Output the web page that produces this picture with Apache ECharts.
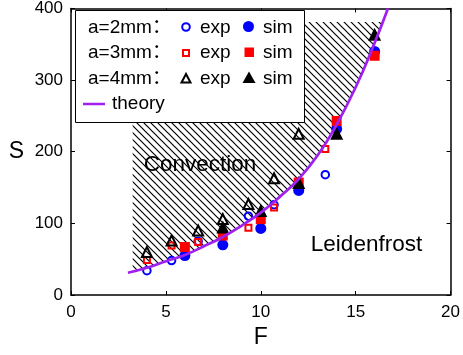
<!DOCTYPE html>
<html>
<head>
<meta charset="utf-8">
<script src="https://cdn.jsdelivr.net/npm/echarts@6/dist/echarts.min.js"></script>
<style>
  html, body { margin: 0; padding: 0; background: #fff; }
  #chart { width: 463px; height: 355px; }
</style>
</head>
<body>
<div id="chart"></div>
<script>
// values: [F, S]
var a2exp = [[4, 34], [5.3, 48], [6.7, 75], [9.35, 110], [10.7, 126], [13.4, 168]];
var a2sim = [[6, 55], [8, 70], [10, 93], [12, 146], [14, 232], [16, 340]];
var a3exp = [[4, 49], [5.3, 69], [6.7, 74], [9.35, 94], [10.7, 122], [13.4, 204]];
var a3sim = [[6, 67], [8, 83], [10, 106], [12, 157], [14, 243], [16, 334]];
var a4exp = [[4, 60], [5.3, 76], [6.7, 90], [8, 106], [9.35, 127], [10.7, 163], [12, 225]];
var a4sim = [[8, 95], [10, 118], [12, 157], [14, 226], [16, 364]];

var theoryF = [3, 4, 5, 6, 7, 8, 9, 10, 11, 12, 13, 14, 15, 16, 16.7];
var theoryS = [31, 38, 47, 56, 68, 81, 97, 115, 137, 162, 195, 238, 290, 352, 400];

// hatched "Convection" region: left edge and top edge corners
var hatchF = [3.25, 3.25, 16.42];
var hatchS = [33, 381, 381];

var xTicks = [0, 5, 10, 15, 20];
var yTicks = [0, 100, 200, 300, 400];

var FONT = '"Liberation Sans", "Noto Sans CJK SC", sans-serif';

// diagonal hatch tile
var tile = document.createElement('canvas');
tile.width = 7;
tile.height = 7;
var tc = tile.getContext('2d');
tc.strokeStyle = '#000';
tc.lineWidth = 1.2;
tc.beginPath();
tc.moveTo(-1, -1); tc.lineTo(8, 8);
tc.moveTo(-1, 6); tc.lineTo(1, 8);
tc.moveTo(6, -1); tc.lineTo(8, 1);
tc.stroke();

var theory = theoryF.map(function (f, i) { return [f, theoryS[i]]; });

// polygon: top edge, then down along the theory curve, then up the left edge
var hatchPoly = [[hatchF[1], hatchS[1]], [hatchF[2], hatchS[2]]];
for (var i = theory.length - 1; i >= 0; i--) {
  if (theory[i][0] > hatchF[0] && theory[i][0] < hatchF[2]) hatchPoly.push(theory[i]);
}
hatchPoly.push([hatchF[0], hatchS[0]]);

var axisCommon = {
  min: 0,
  axisLine: { show: true, onZero: false, lineStyle: { color: '#000', width: 1.5 } },
  axisTick: { show: true, inside: true, length: 4, lineStyle: { color: '#000', width: 1 } },
  splitLine: { show: false }
};

function xAx(pos, labels) {
  return Object.assign({}, axisCommon, {
    type: 'value', position: pos, max: xTicks[xTicks.length - 1], interval: xTicks[1] - xTicks[0],
    name: labels ? 'F' : '', nameLocation: 'middle', nameGap: 29,
    nameTextStyle: { fontFamily: FONT, fontSize: 23, color: '#000' },
    axisLabel: { show: labels, fontFamily: FONT, fontSize: 17, color: '#000', margin: 9 }
  });
}
function yAx(pos, labels) {
  return Object.assign({}, axisCommon, {
    type: 'value', position: pos, max: yTicks[yTicks.length - 1], interval: yTicks[1] - yTicks[0],
    name: labels ? 'S' : '', nameLocation: 'middle', nameGap: 47, nameRotate: 0,
    nameTextStyle: { fontFamily: FONT, fontSize: 23, color: '#000' },
    axisLabel: { show: labels, fontFamily: FONT, fontSize: 17, color: '#000', margin: 8 }
  });
}

function openSeries(data, symbol, size, color) {
  return {
    type: 'scatter', data: data, symbol: symbol, symbolSize: size,
    itemStyle: { color: 'rgba(0,0,0,0)', borderColor: color, borderWidth: 2, opacity: 1 },
    z: 3
  };
}
function fillSeries(data, symbol, size, color) {
  return {
    type: 'scatter', data: data, symbol: symbol, symbolSize: size,
    itemStyle: { color: color, opacity: 1 },
    z: 3
  };
}

var chart = echarts.init(document.getElementById('chart'));

var option = {
  animation: false,
  backgroundColor: '#fff',
  grid: { left: 71, top: 7, width: 383, height: 288, containLabel: false },
  xAxis: [xAx('bottom', true), xAx('top', false)],
  yAxis: [yAx('left', true), yAx('right', false)],
  series: [
    {
      type: 'custom',
      silent: true,
      z: 1,
      data: [hatchPoly[0]],
      renderItem: function (params, api) {
        var pts = hatchPoly.map(function (p) { return api.coord(p); });
        return {
          type: 'polygon',
          shape: { points: pts },
          style: { fill: { image: tile, repeat: 'repeat' }, stroke: null }
        };
      }
    },
    openSeries(a2exp, 'circle', 7.5, '#0000ff'),
    fillSeries(a2sim, 'circle', 11, '#0000ff'),
    openSeries(a3exp, 'rect', 6, '#ff0000'),
    fillSeries(a3sim, 'rect', 10, '#ff0000'),
    openSeries(a4exp, 'triangle', 10, '#000'),
    fillSeries(a4sim, 'triangle', 13, '#000'),
    {
      type: 'line', data: theory, smooth: true, symbol: 'none',
      lineStyle: { color: '#a020f0', width: 2.7 },
      z: 4
    }
  ],
  graphic: [
    { type: 'text', z: 50, style: { x: 200, y: 164.5, text: 'Convection', font: '22.5px ' + FONT, fill: '#000', align: 'center', verticalAlign: 'middle' } },
    { type: 'text', z: 50, style: { x: 366.5, y: 244.5, text: 'Leidenfrost', font: '22.5px ' + FONT, fill: '#000', align: 'center', verticalAlign: 'middle' } },
    // legend box
    { type: 'rect', z: 100, shape: { x: 75.5, y: 10.5, width: 229, height: 112 }, style: { fill: '#fff', stroke: '#000', lineWidth: 1 } },
    { type: 'text', z: 101, style: { x: 88, y: 27.5, text: 'a=2mm：', font: '19px ' + FONT, fill: '#000', verticalAlign: 'middle' } },
    { type: 'text', z: 101, style: { x: 88, y: 53, text: 'a=3mm：', font: '19px ' + FONT, fill: '#000', verticalAlign: 'middle' } },
    { type: 'text', z: 101, style: { x: 88, y: 78.5, text: 'a=4mm：', font: '19px ' + FONT, fill: '#000', verticalAlign: 'middle' } },
    { type: 'text', z: 101, style: { x: 200, y: 27.5, text: 'exp', font: '19px ' + FONT, fill: '#000', verticalAlign: 'middle' } },
    { type: 'text', z: 101, style: { x: 200, y: 53, text: 'exp', font: '19px ' + FONT, fill: '#000', verticalAlign: 'middle' } },
    { type: 'text', z: 101, style: { x: 200, y: 78.5, text: 'exp', font: '19px ' + FONT, fill: '#000', verticalAlign: 'middle' } },
    { type: 'text', z: 101, style: { x: 263, y: 27.5, text: 'sim', font: '19px ' + FONT, fill: '#000', verticalAlign: 'middle' } },
    { type: 'text', z: 101, style: { x: 263, y: 53, text: 'sim', font: '19px ' + FONT, fill: '#000', verticalAlign: 'middle' } },
    { type: 'text', z: 101, style: { x: 263, y: 78.5, text: 'sim', font: '19px ' + FONT, fill: '#000', verticalAlign: 'middle' } },
    { type: 'text', z: 101, style: { x: 112, y: 104, text: 'theory', font: '19px ' + FONT, fill: '#000', verticalAlign: 'middle' } },
    { type: 'circle', z: 101, shape: { cx: 186, cy: 27, r: 3.8 }, style: { fill: null, stroke: '#0000ff', lineWidth: 2 } },
    { type: 'circle', z: 101, shape: { cx: 248.5, cy: 26.5, r: 5.5 }, style: { fill: '#0000ff' } },
    { type: 'rect', z: 101, shape: { x: 183, y: 50, width: 6, height: 6 }, style: { fill: null, stroke: '#ff0000', lineWidth: 2 } },
    { type: 'rect', z: 101, shape: { x: 244.5, y: 47.5, width: 9.5, height: 9.5 }, style: { fill: '#ff0000' } },
    { type: 'polygon', z: 101, shape: { points: [[186, 74], [181.5, 82.5], [190.5, 82.5]] }, style: { fill: null, stroke: '#000', lineWidth: 2 } },
    { type: 'polygon', z: 101, shape: { points: [[249, 71.5], [242.5, 83], [255.5, 83]] }, style: { fill: '#000' } },
    { type: 'line', z: 101, shape: { x1: 83, y1: 104, x2: 105, y2: 104 }, style: { stroke: '#a020f0', lineWidth: 2.5 } }
  ]
};

chart.setOption(option, true);
</script>
</body>
</html>
